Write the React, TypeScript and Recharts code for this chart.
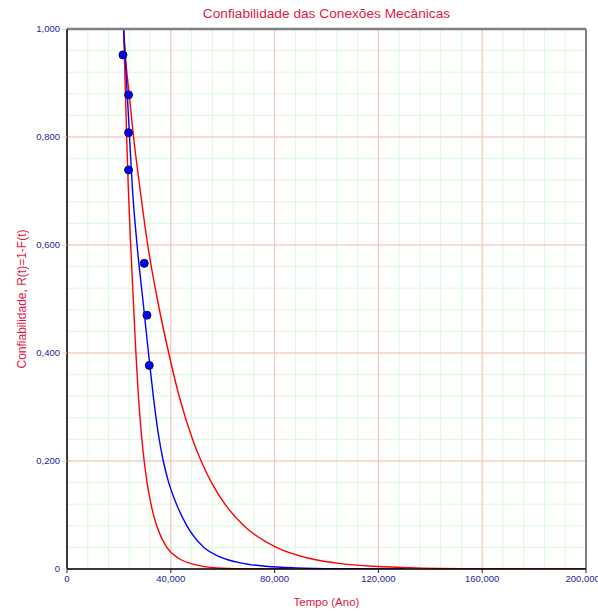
import React from "react";
import {
  CartesianGrid,
  ComposedChart,
  Line,
  ReferenceLine,
  Scatter,
  XAxis,
  YAxis,
} from "recharts";

const xTicks = [0, 40000, 80000, 120000, 160000, 200000];
const yTicks = [0, 0.2, 0.4, 0.6, 0.8, 1.0];
const xMinor = [
  0, 8000, 16000, 24000, 32000, 40000, 48000, 56000, 64000, 72000, 80000, 88000, 96000,
  104000, 112000, 120000, 128000, 136000, 144000, 152000, 160000, 168000, 176000, 184000,
  192000, 200000,
];
const yMinor = [
  0, 0.04, 0.08, 0.12, 0.16, 0.2, 0.24, 0.28, 0.32, 0.36, 0.4, 0.44, 0.48, 0.52, 0.56, 0.6,
  0.64, 0.68, 0.72, 0.76, 0.8, 0.84, 0.88, 0.92, 0.96, 1.0,
];

// pontos de falha (tempo, confiabilidade)
const points = [
  { x: 21570, y: 0.952 },
  { x: 23720, y: 0.878 },
  { x: 23720, y: 0.808 },
  { x: 23720, y: 0.739 },
  { x: 29770, y: 0.566 },
  { x: 30810, y: 0.47 },
  { x: 31690, y: 0.377 },
];

// curva ajustada
const fit = [
  { x: 21800, y: 1.0 },
  { x: 22380, y: 0.952 },
  { x: 23230, y: 0.878 },
  { x: 24110, y: 0.8 },
  { x: 25150, y: 0.709 },
  { x: 27000, y: 0.6 },
  { x: 29200, y: 0.5 },
  { x: 31400, y: 0.4 },
  { x: 33250, y: 0.32 },
  { x: 35200, y: 0.25 },
  { x: 37100, y: 0.2 },
  { x: 39200, y: 0.16 },
  { x: 42200, y: 0.12 },
  { x: 46200, y: 0.08 },
  { x: 52800, y: 0.04 },
  { x: 58700, y: 0.023 },
  { x: 67200, y: 0.011 },
  { x: 76700, y: 0.005 },
  { x: 88200, y: 0.002 },
  { x: 105000, y: 0.0005 },
  { x: 130000, y: 0 },
];

// limite inferior
const lower = [
  { x: 21800, y: 1.0 },
  { x: 22110, y: 0.952 },
  { x: 22530, y: 0.878 },
  { x: 23000, y: 0.8 },
  { x: 23600, y: 0.709 },
  { x: 24550, y: 0.6 },
  { x: 25530, y: 0.5 },
  { x: 26550, y: 0.4 },
  { x: 27530, y: 0.32 },
  { x: 28670, y: 0.25 },
  { x: 29740, y: 0.2 },
  { x: 30860, y: 0.16 },
  { x: 32360, y: 0.12 },
  { x: 34550, y: 0.08 },
  { x: 38430, y: 0.04 },
  { x: 42940, y: 0.02 },
  { x: 49350, y: 0.008 },
  { x: 57670, y: 0.002 },
  { x: 67000, y: 0.0005 },
  { x: 85000, y: 0 },
];

// limite superior
const upper = [
  { x: 21800, y: 1.0 },
  { x: 22450, y: 0.952 },
  { x: 23990, y: 0.878 },
  { x: 25650, y: 0.8 },
  { x: 28000, y: 0.709 },
  { x: 31100, y: 0.6 },
  { x: 34800, y: 0.5 },
  { x: 39200, y: 0.4 },
  { x: 43220, y: 0.32 },
  { x: 48400, y: 0.24 },
  { x: 51680, y: 0.2 },
  { x: 55690, y: 0.16 },
  { x: 60870, y: 0.12 },
  { x: 68170, y: 0.08 },
  { x: 80650, y: 0.04 },
  { x: 93100, y: 0.02 },
  { x: 105600, y: 0.01 },
  { x: 118100, y: 0.005 },
  { x: 134600, y: 0.002 },
  { x: 160000, y: 0.0005 },
  { x: 200000, y: 0 },
];

const X_MAX = 200000;
const font = "'Liberation Sans', Arial, sans-serif";
const tickColor = "#24249a";
const red = "#e3173e";

const fmtX = (v: number) => (v === 0 ? "0" : v.toLocaleString("en-US"));
const fmtY = (v: number) => (v === 0 ? "0" : v.toFixed(3).replace(".", ","));

const vGen = (list: number[]) => (p: any) =>
  list.map((v) =>
    typeof p?.xAxis?.scale === "function"
      ? p.xAxis.scale(v)
      : p.offset.left + (v / X_MAX) * p.offset.width
  );
const hGen = (list: number[]) => (p: any) =>
  list.map((v) =>
    typeof p?.yAxis?.scale === "function"
      ? p.yAxis.scale(v)
      : p.offset.top + (1 - v) * p.offset.height
  );

const Dot = (props: any) => (
  <circle cx={props.cx} cy={props.cy} r={4} fill="#0000ff" stroke="#10103a" strokeWidth={1} />
);

export default function App() {
  return (
    <div
      style={{
        position: "absolute",
        left: 0,
        top: 0,
        width: 598,
        height: 615,
        background: "#fff",
        fontFamily: font,
      }}
    >
      <div
        style={{
          position: "absolute",
          left: 67,
          width: 519,
          top: 6,
          textAlign: "center",
          color: red,
          fontSize: 13.7,
        }}
      >
        Confiabilidade das Conexões Mecânicas
      </div>
      <div
        style={{
          position: "absolute",
          left: 22,
          top: 299,
          transform: "translate(-50%, -50%) rotate(-90deg)",
          whiteSpace: "nowrap",
          color: red,
          fontSize: 12,
        }}
      >
        Confiabilidade, R(t)=1-F(t)
      </div>
      <ComposedChart
        width={598}
        height={615}
        margin={{ top: 29, right: 12, bottom: 0, left: 7 }}
      >
        <CartesianGrid
          stroke="#d8fbd8"
          verticalCoordinatesGenerator={vGen(xMinor)}
          horizontalCoordinatesGenerator={hGen(yMinor)}
        />
        <CartesianGrid
          stroke="#ffbcbc"
          verticalCoordinatesGenerator={vGen(xTicks)}
          horizontalCoordinatesGenerator={hGen(yTicks)}
        />
        <XAxis
          type="number"
          dataKey="x"
          domain={[0, X_MAX]}
          ticks={xTicks}
          tickFormatter={fmtX}
          allowDataOverflow
          height={46}
          axisLine={{ stroke: "#000", strokeWidth: 1.5 }}
          tickLine={{ stroke: "#222" }}
          tickSize={4}
          tickMargin={2}
          tick={{ fill: tickColor, fontSize: 9.5, fontFamily: font }}
          label={{
            value: "Tempo (Ano)",
            position: "insideBottom",
            offset: 9,
            fill: red,
            fontSize: 11.5,
            fontFamily: font,
          }}
        />
        <YAxis
          type="number"
          dataKey="y"
          domain={[0, 1]}
          ticks={yTicks}
          tickFormatter={fmtY}
          allowDataOverflow
          width={60}
          axisLine={{ stroke: "#000", strokeWidth: 1.5 }}
          tickLine={{ stroke: "#ffbcbc" }}
          tickSize={5}
          tickMargin={2}
          tick={{ fill: tickColor, fontSize: 9.5, fontFamily: font }}
        />
        <Line
          data={lower}
          dataKey="y"
          type="monotone"
          stroke="#ff0000"
          strokeWidth={1.4}
          dot={false}
          isAnimationActive={false}
        />
        <Line
          data={upper}
          dataKey="y"
          type="monotone"
          stroke="#ff0000"
          strokeWidth={1.4}
          dot={false}
          isAnimationActive={false}
        />
        <Line
          data={fit}
          dataKey="y"
          type="monotone"
          stroke="#0000ff"
          strokeWidth={1.4}
          dot={false}
          isAnimationActive={false}
        />
        <Scatter data={points} dataKey="y" shape={Dot} isAnimationActive={false} />
        <ReferenceLine y={1} stroke="#808080" strokeWidth={2.5} />
        <ReferenceLine x={X_MAX} stroke="#808080" strokeWidth={2} />
      </ComposedChart>
    </div>
  );
}
